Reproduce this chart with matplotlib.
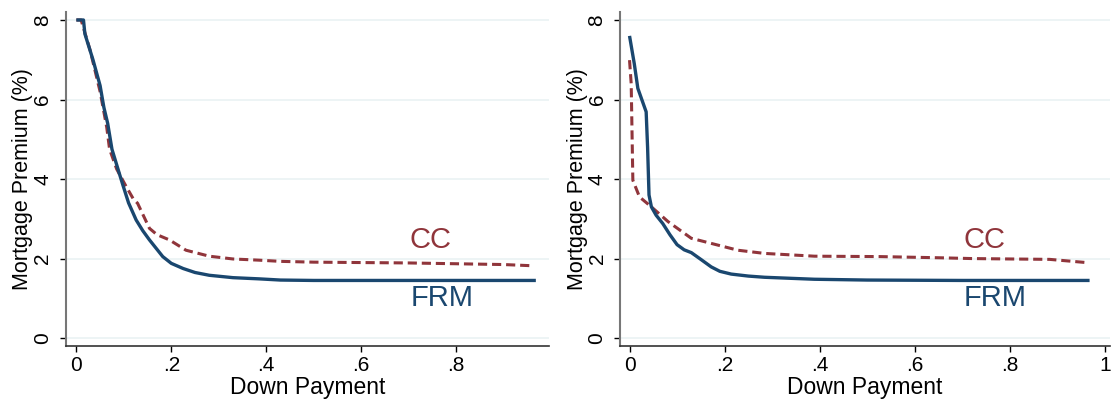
import matplotlib.pyplot as plt
plt.switch_backend('agg')

# left panel
left_frm_x = [0, 0.015, 0.018, 0.035, 0.05, 0.058, 0.066, 0.075, 0.089, 0.098, 0.11, 0.126, 0.14,
              0.154, 0.182, 0.2, 0.225, 0.25, 0.28, 0.33, 0.385, 0.43, 0.5, 0.6, 0.8, 0.968]
left_frm_y = [8, 8, 7.65, 7.0, 6.35, 5.8, 5.4, 4.75, 4.2, 3.85, 3.4, 2.97, 2.7,
              2.47, 2.05, 1.88, 1.75, 1.65, 1.58, 1.52, 1.49, 1.46, 1.45, 1.45, 1.45, 1.45]
left_cc_x = [0, 0.01, 0.029, 0.05, 0.064, 0.07, 0.085, 0.105, 0.12, 0.129, 0.154, 0.17, 0.196,
             0.231, 0.28, 0.33, 0.385, 0.43, 0.5, 0.6, 0.7, 0.8, 0.9, 0.96]
left_cc_y = [8, 8, 7.24, 6.2, 5.3, 4.75, 4.25, 3.81, 3.5, 3.39, 2.76, 2.6, 2.47,
             2.21, 2.06, 1.99, 1.96, 1.93, 1.91, 1.9, 1.89, 1.87, 1.85, 1.82]

# right panel
right_frm_x = [0, 0.01, 0.0175, 0.035, 0.038, 0.041, 0.046, 0.056, 0.07, 0.085, 0.1, 0.115, 0.13,
               0.15, 0.172, 0.19, 0.214, 0.25, 0.284, 0.389, 0.5, 0.7, 0.968]
right_frm_y = [7.6, 6.9, 6.28, 5.69, 4.8, 3.6, 3.3, 3.09, 2.88, 2.6, 2.35, 2.22, 2.15,
               1.98, 1.79, 1.68, 1.61, 1.56, 1.53, 1.48, 1.46, 1.45, 1.45]
right_cc_x = [0, 0.0035, 0.007, 0.021, 0.046, 0.081, 0.13, 0.179, 0.228, 0.284, 0.389, 0.526,
              0.653, 0.722, 0.884, 0.961]
right_cc_y = [6.99, 6.4, 3.97, 3.55, 3.3, 2.93, 2.51, 2.36, 2.21, 2.13, 2.06, 2.05,
              2.02, 2.0, 1.98, 1.90]

left_xticks = [0, 0.2, 0.4, 0.6, 0.8]
left_xtick_labels = ["0", ".2", ".4", ".6", ".8"]
right_xticks = [0, 0.2, 0.4, 0.6, 0.8, 1]
right_xtick_labels = ["0", ".2", ".4", ".6", ".8", "1"]
yticks = [0, 2, 4, 6, 8]

NAVY = "#1a476f"
MAROON = "#90353b"

plt.rcParams['font.family'] = ['Liberation Sans', 'DejaVu Sans']

fig = plt.figure(figsize=(11.12, 4.01), dpi=100)
ax1 = fig.add_axes([0.0594, 0.137, 0.434, 0.833])
ax2 = fig.add_axes([0.558, 0.137, 0.44, 0.833])

panels = [(ax1, left_frm_x, left_frm_y, left_cc_x, left_cc_y, (-0.0217, 0.995),
           left_xticks, left_xtick_labels),
          (ax2, right_frm_x, right_frm_y, right_cc_x, right_cc_y, (-0.019, 1.0105),
           right_xticks, right_xtick_labels)]

for ax, fx, fy, cx, cy, xl, xt, xtl in panels:
    for y in yticks:
        ax.axhline(y, color="#eaf2f3", lw=1.2, zorder=0)
    ax.plot(cx, cy, color=MAROON, lw=2.2, dashes=(3, 1.6), zorder=2)
    ax.plot(fx, fy, color=NAVY, lw=2.4, solid_capstyle='butt', zorder=3)
    ax.text(0.747, 2.47, "CC", color=MAROON, fontsize=21, ha='center', va='center')
    ax.text(0.77, 1.0, "FRM", color=NAVY, fontsize=21, ha='center', va='center')
    ax.set_xlim(*xl)
    ax.set_ylim(-0.2, 8.2)
    ax.set_xticks(xt)
    ax.set_xticklabels(xtl)
    ax.set_yticks(yticks)
    ax.set_yticklabels([str(v) for v in yticks], rotation=90, va='center')
    ax.tick_params(axis='both', direction='out', length=4, width=1, labelsize=15)
    ax.tick_params(axis='x', pad=3)
    ax.tick_params(axis='y', pad=6)
    ax.spines['top'].set_visible(False)
    ax.spines['right'].set_visible(False)
    ax.spines['left'].set_color("#777777")
    ax.spines['left'].set_linewidth(1.5)
    ax.spines['bottom'].set_color("#333333")
    ax.spines['bottom'].set_linewidth(1.2)
    ax.set_xlabel("Down Payment", fontsize=16.5, labelpad=1)
    ax.set_ylabel("Mortgage Premium (%)", fontsize=15.5, labelpad=0)

plt.savefig("out.png", dpi=100)
